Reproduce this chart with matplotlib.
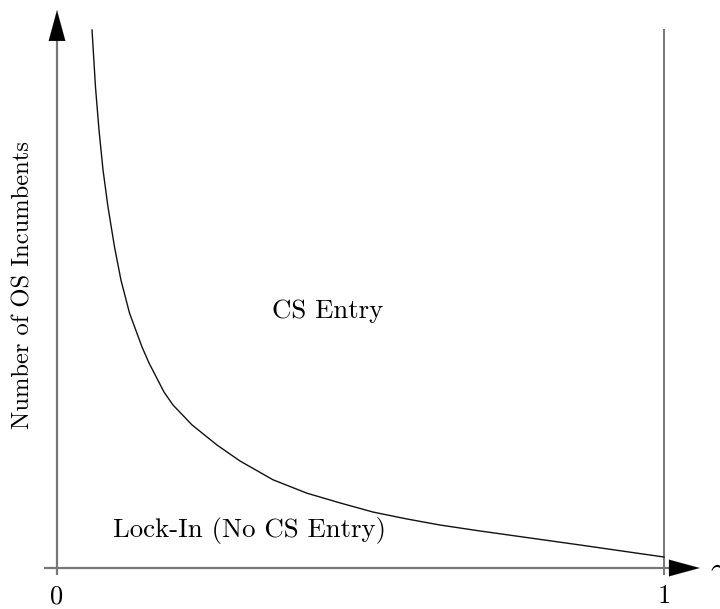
import matplotlib.pyplot as plt
import numpy as np

plt.rcParams['mathtext.fontset'] = 'cm'

# threshold curve: share gamma vs. number of OS incumbents (scaled 0..1)
gamma = [0.0577, 0.0634, 0.0692, 0.0758, 0.0840, 0.0947, 0.1054, 0.1194,
         0.1400, 0.1516, 0.1763, 0.1911, 0.2224, 0.2636, 0.3015, 0.3558,
         0.4119, 0.4662, 0.5206, 0.5766, 0.6310, 0.6969, 0.8616, 1.0]
incumbents = [1.0, 0.894, 0.814, 0.740, 0.671, 0.597, 0.535, 0.474,
              0.411, 0.381, 0.327, 0.303, 0.266, 0.2286, 0.1989, 0.164,
              0.139, 0.121, 0.104, 0.0911, 0.0799, 0.0688, 0.0428, 0.0204]

region_labels = ['CS Entry', 'Lock-In (No CS Entry)']
region_pos = [(0.4465, 0.478), (0.317, 0.069)]
tick_labels = ['0', '1']

W, H = 720, 609
x0, xs = 57, 607    # pixel of gamma=0, pixels per unit
y0, ys = 568, 538   # pixel of N=0, pixels per unit

fig = plt.figure(figsize=(W / 100, H / 100), dpi=100)
ax = fig.add_axes([0, 0, 1, 1])
ax.set_xlim(-x0 / xs, (W - x0) / xs)
ax.set_ylim((y0 - H) / ys, y0 / ys)
ax.axis('off')

axis_col = '#777777'
# axes lines
ax.plot([-0.022, 1.03], [0, 0], color=axis_col, lw=1.6, solid_capstyle='butt')
ax.plot([0, 0], [-0.013, 1.0], color=axis_col, lw=1.6, solid_capstyle='butt')
# arrow heads
head = dict(arrowstyle='-|>,head_length=1.1,head_width=0.3',
            color='black', lw=0.1, mutation_scale=20, shrinkA=0, shrinkB=0)
ax.annotate('', xy=(1.059, 0), xytext=(1.02, 0), arrowprops=head)
ax.annotate('', xy=(0, 1.037), xytext=(0, 0.99), arrowprops=head)
# boundary at gamma = 1
ax.plot([1, 1], [-0.013, 1.002], color=axis_col, lw=1.4, solid_capstyle='butt')

ax.plot(gamma, incumbents, color='#111111', lw=1.0, solid_joinstyle='round')

for lab, (px, py) in zip(region_labels, region_pos):
    ax.text(px, py, lab, family='cmr10', fontsize=19.3, ha='center', va='center')

for v, lab in zip([0, 1], tick_labels):
    ax.text(v, -0.053, lab, family='cmr10', fontsize=19, ha='center', va='center')

ax.text(1.076, -0.008, r'$\gamma$', fontsize=22, ha='left', va='center')
ax.text(-0.056, 0.526, 'Number of OS Incumbents', family='cmr10', fontsize=17.7,
        rotation=90, ha='center', va='center')

fig.savefig('out.png', dpi=100)
